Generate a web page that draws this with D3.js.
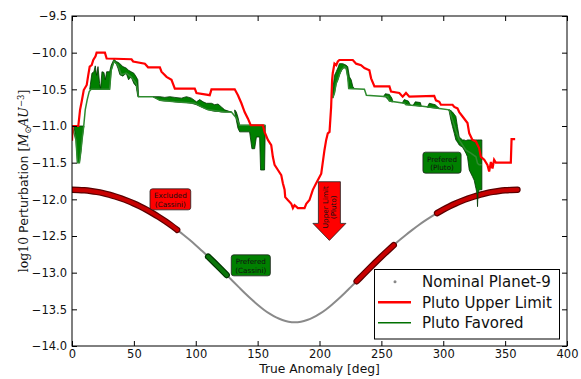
<!DOCTYPE html>
<html><head><meta charset="utf-8">
<script src="https://cdn.jsdelivr.net/npm/d3@7"></script>
<style>
body{margin:0;background:#fff}
svg{display:block}
text{font-family:"DejaVu Sans",sans-serif}
</style>
</head><body>
<svg id="c" width="581" height="379"></svg>
<script>
// ---------- data ----------
const p9Angle = [0,5,10,15,20,25,30,35,40,45,50,55,60,65,70,75,80,85,90,95,100,105,110,115,120,125,130,135,140,145,150,155,160,165,170,175,180,
  185,190,195,200,205,210,215,220,225,230,235,240,245,250,255,260,265,270,275,280,285,290,295,300,305,310,315,320,325,330,335,340,345,350,355,360];
const p9Value = [-11.870,-11.872,-11.877,-11.886,-11.899,-11.916,-11.937,-11.961,-11.989,-12.021,-12.057,-12.097,-12.140,-12.188,-12.239,-12.294,-12.353,-12.416,-12.482,
  -12.552,-12.625,-12.702,-12.781,-12.863,-12.947,-13.032,-13.117,-13.201,-13.284,-13.363,-13.437,-13.505,-13.563,-13.611,-13.646,-13.668,-13.676,
  -13.668,-13.646,-13.611,-13.563,-13.505,-13.437,-13.363,-13.284,-13.201,-13.117,-13.032,-12.947,-12.863,-12.781,-12.702,-12.625,-12.552,-12.482,
  -12.416,-12.353,-12.294,-12.239,-12.188,-12.140,-12.097,-12.057,-12.021,-11.989,-11.961,-11.937,-11.916,-11.899,-11.886,-11.877,-11.872,-11.870];
const cassiniExcluded = [[0,85],[230,260],[295,360]];
const cassiniPreferred = [[110,125]];

const upperLimit = [[0,-11.20],[0.5,-11.0],[5.1,-11.0],[6.5,-10.78],[7.8,-10.67],[9.5,-10.51],[11.9,-10.44],[13.1,-10.31],[14.3,-10.19],[15.9,-10.17],[17.2,-10.10],[19.0,-10.05],[19.9,-10.0],
  [26.6,-10.0],[28.0,-10.08],[48.1,-10.09],[49.4,-10.12],[58.9,-10.15],[61.5,-10.20],[71.0,-10.20],[72.3,-10.26],[76.4,-10.33],[80.4,-10.37],[83.1,-10.49],
  [99.2,-10.49],[100.6,-10.55],[111.3,-10.58],[112.7,-10.50],[131.5,-10.50],[134.1,-10.58],[136.9,-10.69],[139.5,-10.81],[142.2,-10.90],[144.4,-10.99],
  [154.3,-10.99],[155.6,-11.08],[158.3,-11.19],[161.0,-11.26],[162.3,-11.42],[163.7,-11.53],[166.4,-11.60],[169.1,-11.67],[170.4,-11.78],[171.8,-11.87],
  [172.3,-11.97],[174.4,-12.01],[177.2,-12.06],[178.5,-12.12],[179.8,-12.08],[181.2,-12.10],[182.5,-12.12],[187.9,-12.12],[189.3,-12.06],[191.9,-12.01],
  [194.6,-11.87],[197.3,-11.78],[201.4,-11.65],[204.0,-11.33],[205.4,-11.19],[206.7,-11.10],[208.1,-11.08],[209.4,-10.74],[210.2,-10.37],[210.7,-10.28],
  [212.1,-10.15],[213.5,-10.17],[214.8,-10.12],[216.1,-10.10],[226.9,-10.10],[229.6,-10.15],[233.6,-10.17],[236.3,-10.21],[240.3,-10.24],[241.7,-10.35],
  [244.4,-10.46],[256.5,-10.46],[257.8,-10.53],[264.5,-10.55],[267.2,-10.60],[269.9,-10.55],[272.6,-10.60],[292.7,-10.59],[294.1,-10.65],[296.8,-10.67],
  [298.1,-10.71],[307.5,-10.71],[308.9,-10.74],[311.5,-10.76],[312.9,-10.81],[315.6,-10.87],[319.6,-10.96],[321.0,-11.10],[323.6,-11.19],[326.4,-11.21],
  [329.0,-11.30],[330.4,-11.42],[333.1,-11.46],[335.7,-11.53],[337.1,-11.62],[338.5,-11.49],[339.8,-11.58],[341.1,-11.46],[342.5,-11.50],[354.6,-11.50],
  [355.2,-11.18],[358.1,-11.18]];

const favoredLine1 = [[0,-11.0],[3.2,-11.19],[4.4,-11.50],[6.0,-11.50],[7.3,-11.33],[8.1,-11.19],[9.3,-11.03],[10.7,-10.78],[12.3,-10.64],[13.9,-10.53],
  [15.5,-10.50],[30.4,-10.50],[31.7,-10.24],[33.9,-10.12],[37.1,-10.17],[39.8,-10.30],[43.8,-10.28],[47.8,-10.33],[51.9,-10.42],[53.8,-10.60],
  [65.3,-10.60],[71.0,-10.65],[83.1,-10.67],[99.2,-10.69],[104.6,-10.74],[109.9,-10.78],[123.4,-10.81],[128.8,-10.81],[132.8,-10.89],[135.5,-10.99],[156.2,-10.99]];
const favoredLine2 = [[210.7,-10.62],[212.1,-10.55],[213.5,-10.42],[214.8,-10.37],[216.1,-10.30],[217.5,-10.24],[220.2,-10.19],[221.5,-10.21],[222.8,-10.33],
  [223.6,-10.49],[236.3,-10.50],[237.9,-10.58],[255.1,-10.60],[256.5,-10.66],[268.5,-10.69],[269.9,-10.71],[283.3,-10.73],[296.8,-10.76],[304.8,-10.78],
  [307.5,-10.92],[310.2,-11.06],[312.9,-11.19],[318.3,-11.33],[322.3,-11.37],[326.4,-11.42],[327.7,-11.51],[329.0,-11.53],[331.2,-11.53]];

// favoured spread: [angle, upper, lower]
const favoredBands = [
  [[1.6,-11.0,-11.0],[3.2,-11.0,-11.19],[4.4,-11.0,-11.50],[6.0,-11.0,-11.50],[7.3,-11.0,-11.33],[8.1,-11.0,-11.19],[9.3,-11.0,-11.03],[9.7,-11.0,-11.0]],
  [[14.3,-10.5,-10.5],[16.1,-10.28,-10.5],[17.7,-10.26,-10.5],[18.8,-10.18,-10.5],[19.9,-10.31,-10.5],[21.0,-10.19,-10.5],[22.3,-10.42,-10.5],[23.1,-10.49,-10.5],
   [24.2,-10.26,-10.5],[25.8,-10.27,-10.5],[26.9,-10.37,-10.5],[28.0,-10.26,-10.5],[30.4,-10.26,-10.5],[31.7,-10.17,-10.24],[33.9,-10.09,-10.12],[35.7,-10.12,-10.15],
   [37.1,-10.13,-10.21],[38.7,-10.15,-10.30],[41.1,-10.19,-10.32],[43.8,-10.21,-10.28],[45.7,-10.24,-10.37],[47.8,-10.26,-10.33],[50.0,-10.28,-10.42],
   [51.9,-10.33,-10.46],[53.2,-10.37,-10.60],[53.8,-10.60,-10.60]],
  [[65.3,-10.60,-10.60],[71.0,-10.60,-10.65],[75.0,-10.61,-10.66],[79.0,-10.60,-10.66],[83.1,-10.61,-10.67],[88.5,-10.62,-10.68],[92.5,-10.60,-10.68],
   [96.5,-10.62,-10.69],[100.6,-10.67,-10.71],[103.2,-10.64,-10.73],[105.9,-10.67,-10.75],[108.6,-10.69,-10.77],[112.7,-10.69,-10.79],[115.3,-10.71,-10.80],
   [118.0,-10.70,-10.80],[120.7,-10.74,-10.81],[123.4,-10.78,-10.81],[128.8,-10.81,-10.81]],
  [[131.5,-10.78,-10.81],[132.8,-10.81,-10.92],[134.1,-10.88,-11.03],[135.5,-10.99,-11.08],[143.5,-10.99,-11.08],[145.4,-10.99,-11.31],[147.6,-10.99,-11.31],
   [149.0,-10.99,-11.15],[151.6,-10.99,-11.15],[152.4,-10.99,-11.60],[155.6,-10.99,-11.60],[156.2,-10.99,-10.99]],
  [[210.7,-10.51,-10.62],[212.1,-10.31,-10.55],[213.5,-10.26,-10.42],[214.8,-10.21,-10.37],[216.1,-10.15,-10.30],[218.8,-10.15,-10.21],[221.5,-10.17,-10.21],
   [222.8,-10.19,-10.33],[224.2,-10.33,-10.49],[225.6,-10.37,-10.49],[226.9,-10.46,-10.49],[228.2,-10.49,-10.49]],
  [[251.6,-10.60,-10.60],[253.2,-10.56,-10.60],[256.5,-10.57,-10.66],[258.5,-10.62,-10.67],[259.3,-10.67,-10.67]],
  [[266.9,-10.685,-10.685],[268.5,-10.64,-10.69],[271.8,-10.66,-10.71],[273.4,-10.71,-10.71]],
  [[275.8,-10.715,-10.715],[277.4,-10.67,-10.72],[281.5,-10.68,-10.73],[282.3,-10.73,-10.73]],
  [[287.1,-10.745,-10.745],[288.7,-10.69,-10.745],[293.5,-10.71,-10.755],[296.8,-10.76,-10.76]],
  [[304.3,-10.79,-10.79],[304.8,-10.78,-10.80],[306.2,-10.79,-10.92],[307.5,-10.81,-11.01],[308.9,-10.84,-11.10],[310.2,-10.87,-11.19],[311.5,-11.01,-11.22],
   [312.9,-11.15,-11.26],[315.6,-11.19,-11.29],[317.0,-11.19,-11.33],[318.3,-11.20,-11.37],[319.6,-11.19,-11.42],[321.0,-11.19,-11.60],[323.6,-11.19,-11.69],
   [325.0,-11.19,-11.74],[326.4,-11.19,-11.85],[327.3,-11.19,-11.92],[327.7,-11.19,-12.10],[328.1,-11.19,-11.92],[329.0,-11.19,-11.87],[331.2,-11.19,-11.87]]
];

const xTicks = [0,50,100,150,200,250,300,350,400];
const yTicks = [-14,-13.5,-13,-12.5,-12,-11.5,-11,-10.5,-10,-9.5];
const legendLabels = ["Nominal Planet-9","Pluto Upper Limit","Pluto Favored"];
const boxNotes = [
  {lines:["Excluded","(Cassini)"], angle:79.5, value:-12.0, fill:"#ff0000"},
  {lines:["Prefered","(Cassini)"], angle:144.5, value:-12.9, fill:"#008000"},
  {lines:["Prefered","(Pluto)"], angle:299, value:-11.5, fill:"#008000"}
];
const arrowNote = {lines:["Upper Limit","(Pluto)"], angle:208, from:-11.76, to:-12.56};

// ---------- drawing ----------
const svg = d3.select("#c");
const L=72, R=567, T=16, B=346;
const x = d3.scaleLinear().domain([0,400]).range([L,R]);
const y = d3.scaleLinear().domain([-14,-9.5]).range([B,T]);
const line = d3.line().x(d=>x(d[0])).y(d=>y(d[1]));
const smooth = d3.line().x(d=>x(d[0])).y(d=>y(d[1])).curve(d3.curveMonotoneX);
const area = d3.area().x(d=>x(d[0])).y0(d=>y(d[2])).y1(d=>y(d[1]));

svg.append("defs").append("clipPath").attr("id","clip")
  .append("rect").attr("x",L).attr("y",T).attr("width",R-L).attr("height",B-T);
const g = svg.append("g").attr("clip-path","url(#clip)");

const p9 = p9Angle.map((a,i)=>[a,p9Value[i]]);
g.append("path").attr("d",smooth(p9)).attr("fill","none").attr("stroke","#8a8a8a").attr("stroke-width",2);

function markerBand(ranges, edge, fill){
  ranges.forEach(([a0,a1])=>{
    const pts = p9.filter(d=>d[0]>=a0 && d[0]<=a1);
    g.append("path").attr("d",smooth(pts)).attr("fill","none").attr("stroke",edge)
      .attr("stroke-width",6.4).attr("stroke-linecap","round");
    g.append("path").attr("d",smooth(pts)).attr("fill","none").attr("stroke",fill)
      .attr("stroke-width",4).attr("stroke-linecap","round");
  });
}
markerBand(cassiniExcluded,"#5a0000","#c80000");
markerBand(cassiniPreferred,"#003300","#0a760a");

favoredBands.forEach(seg=>{
  g.append("path").attr("d",area(seg)).attr("fill","#008000").attr("stroke","#003300").attr("stroke-width",0.8);
});
[favoredLine1,favoredLine2].forEach(seg=>{
  g.append("path").attr("d",line(seg)).attr("fill","none").attr("stroke","#2e8b2e").attr("stroke-width",1.5);
});
g.append("path").attr("d",line(upperLimit)).attr("fill","none").attr("stroke","#ff0000").attr("stroke-width",2.2);

// box annotations
boxNotes.forEach(n=>{
  const cx=x(n.angle), cy=y(n.value);
  const ng=svg.append("g");
  const r=ng.append("rect");
  const t=ng.append("text").attr("font-size",7.2).attr("text-anchor","middle").attr("fill","#111");
  n.lines.forEach((s,i)=>t.append("tspan").attr("x",cx).attr("y",cy-1+i*8.3).text(s));
  const w=Math.max(...t.selectAll("tspan").nodes().map(e=>e.getComputedTextLength()))+8;
  r.attr("x",cx-w/2).attr("y",cy-10.5).attr("width",w).attr("height",21).attr("rx",2.5)
   .attr("fill",n.fill).attr("stroke","#222").attr("stroke-width",0.8);
});

// arrow annotation
{
  const cx=x(arrowNote.angle), top=y(arrowNote.from), tip=y(arrowNote.to);
  const headH=17, bw=11, hw=16.5;
  const p=d3.path();
  p.moveTo(cx-bw,top); p.lineTo(cx+bw,top); p.lineTo(cx+bw,tip-headH); p.lineTo(cx+hw,tip-headH);
  p.lineTo(cx,tip); p.lineTo(cx-hw,tip-headH); p.lineTo(cx-bw,tip-headH); p.closePath();
  svg.append("path").attr("d",p.toString()).attr("fill","#ff0000").attr("stroke","#222").attr("stroke-width",0.8);
  const tg=svg.append("g").attr("transform",`translate(${cx-0.5},${top+25.5}) rotate(-90)`);
  const t=tg.append("text").attr("font-size",7.2).attr("text-anchor","middle").attr("fill","#111");
  arrowNote.lines.forEach((s,i)=>t.append("tspan").attr("x",0).attr("y",-1.2+i*8.3).text(s));
}

// axes
function styleAxis(sel){
  sel.select(".domain").remove();
  sel.selectAll(".tick line").attr("stroke","#000").attr("stroke-width",1);
  sel.selectAll("text").attr("font-size",11.5).attr("fill","#111").attr("font-family","DejaVu Sans");
}
svg.append("g").attr("transform",`translate(0,${B})`)
  .call(d3.axisBottom(x).tickValues(xTicks).tickSizeInner(-5).tickSizeOuter(0).tickPadding(4).tickFormat(d3.format("d"))).call(styleAxis);
svg.append("g").attr("transform",`translate(0,${T})`)
  .call(d3.axisTop(x).tickValues(xTicks).tickSizeInner(-5).tickSizeOuter(0).tickFormat("")).call(styleAxis);
svg.append("g").attr("transform",`translate(${L},0)`)
  .call(d3.axisLeft(y).tickValues(yTicks).tickSizeInner(-5).tickSizeOuter(0).tickPadding(5).tickFormat(d3.format(".1f"))).call(styleAxis);
svg.append("g").attr("transform",`translate(${R},0)`)
  .call(d3.axisRight(y).tickValues(yTicks).tickSizeInner(-5).tickSizeOuter(0).tickFormat("")).call(styleAxis);
svg.append("rect").attr("x",L).attr("y",T).attr("width",R-L).attr("height",B-T)
  .attr("fill","none").attr("stroke","#000").attr("stroke-width",1);

// axis labels
svg.append("text").attr("x",(L+R)/2).attr("y",372.5).attr("text-anchor","middle").attr("font-size",12.3).attr("fill","#111")
  .text("True Anomaly [deg]");
{
  const t=svg.append("text").attr("transform",`translate(28,${(T+B)/2}) rotate(-90)`)
    .attr("text-anchor","middle").attr("font-size",12.5).attr("fill","#111");
  t.append("tspan").attr("font-family","DejaVu Serif").text("log10");
  t.append("tspan").text(" Perturbation ");
  t.append("tspan").attr("font-family","DejaVu Serif").text("[");
  t.append("tspan").attr("font-family","DejaVu Serif").attr("font-style","italic").text("M");
  t.append("tspan").attr("font-family","DejaVu Sans").attr("font-size",8.5).attr("dy",2.5).text("⊙");
  t.append("tspan").attr("font-family","DejaVu Serif").attr("font-style","italic").attr("dy",-2.5).text("AU");
  t.append("tspan").attr("font-family","DejaVu Serif").attr("font-size",8.5).attr("dy",-4.5).text("−3");
  t.append("tspan").attr("font-family","DejaVu Serif").attr("dy",4.5).text("]");
}

// legend
{
  const lg=svg.append("g");
  lg.append("rect").attr("x",374.5).attr("y",269.5).attr("width",185).attr("height",69.5)
    .attr("fill","#fff").attr("stroke","#000").attr("stroke-width",1);
  const rows=[281.7,302.2,322.7];
  lg.append("circle").attr("cx",395).attr("cy",rows[0]).attr("r",1.5).attr("fill","#888");
  lg.append("line").attr("x1",378).attr("x2",411).attr("y1",rows[1]).attr("y2",rows[1]).attr("stroke","#ff0000").attr("stroke-width",2.5);
  lg.append("line").attr("x1",378).attr("x2",411).attr("y1",rows[2]).attr("y2",rows[2]).attr("stroke","#007000").attr("stroke-width",1.6);
  legendLabels.forEach((s,i)=>lg.append("text").attr("x",422).attr("y",rows[i]).attr("dy","0.36em")
    .attr("font-size",15).attr("fill","#111").text(s));
}
</script>
</body></html>
